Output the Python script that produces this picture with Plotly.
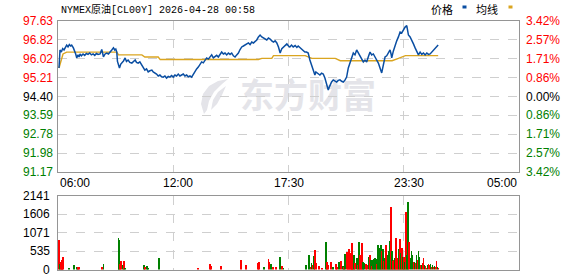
import plotly.graph_objects as go

W, H = 578, 276

# ---------------- data ----------------
title_text = "NYMEX原油[CL00Y] 2026-04-28 00:58"
prev_close = 94.40
price_ticks = [97.63, 96.82, 96.02, 95.21, 94.40, 93.59, 92.78, 91.98, 91.17]
pct_labels = ["3.42%", "2.57%", "1.71%", "0.86%", "0.00%", "0.86%", "1.71%", "2.57%", "3.42%"]
vol_ticks = [2141, 1606, 1071, 535, 0]
time_tick_min = [0, 360, 690, 1050, 1380]
time_labels = ["06:00", "12:00", "17:30", "23:30", "05:00"]
grid_min = [345, 690, 1035]

# minutes since 06:00
price_min = [3, 4, 5, 6, 10, 14, 18, 22, 26, 30, 34, 38, 41, 46, 50, 53, 56, 60, 63, 66, 70,
             75, 80, 85, 90, 95, 100, 105, 110, 115, 120, 126, 131, 134, 136, 141, 146, 151,
             156, 161, 166, 170, 173, 176, 178, 181, 184, 188, 191, 196, 201, 205, 210, 215,
             221, 226, 231, 235, 240, 245, 251, 255, 260, 265, 270, 275, 281, 285, 290, 295,
             300, 305, 310, 315, 320, 325, 330, 335, 340, 345, 350, 355, 360, 365, 370, 375,
             380, 385, 390, 395, 400, 405, 410, 415, 420, 425, 430, 435, 440, 445, 450, 455,
             460, 465, 470, 475, 480, 485, 490, 495, 500, 505, 510, 515, 520, 525, 530, 535,
             540, 545, 550, 555, 560, 565, 570, 575, 580, 585, 590, 595, 600, 605, 610, 615,
             620, 625, 630, 635, 640, 645, 650, 655, 660, 665, 670, 675, 680, 685, 690, 694,
             699, 704, 710, 715, 719, 725, 730, 735, 739, 744, 749, 754, 760, 765, 769, 772,
             775, 780, 784, 789, 794, 799, 802, 804, 807, 809, 812, 814, 819, 824, 829, 834,
             839, 844, 849, 854, 859, 864, 869, 874, 879, 884, 889, 894, 899, 904, 909, 914,
             919, 924, 929, 934, 939, 944, 949, 954, 959, 964, 969, 974, 979, 984, 989, 994,
             997, 999, 1004, 1009, 1014, 1019, 1024, 1029, 1034, 1039, 1044, 1049, 1054,
             1059, 1064, 1069, 1074, 1079, 1084, 1089, 1094, 1099, 1104, 1109, 1114, 1119,
             1124, 1129, 1134, 1138]
price_val = [95.62, 96.30, 96.00, 96.39, 96.30, 96.45, 96.39, 96.48, 96.60, 96.52, 96.62,
             96.56, 96.60, 96.48, 96.35, 96.22, 96.05, 96.18, 96.09, 96.22, 96.14,
             96.22, 96.16, 96.24, 96.20, 96.26, 96.18, 96.22, 96.16, 96.24, 96.20, 96.22,
             96.41, 96.26, 96.10, 96.22, 96.26, 96.22,
             96.33, 96.39, 96.48, 96.39, 96.43, 96.30, 95.90, 95.75, 95.62, 95.79, 95.83,
             95.92, 96.05, 95.90, 95.96, 95.86,
             95.83, 95.92, 95.96, 95.86, 95.83, 95.88, 95.75, 95.62, 95.53, 95.58, 95.45,
             95.50, 95.53, 95.45, 95.41, 95.36,
             95.28, 95.32, 95.24, 95.23, 95.28, 95.19, 95.26, 95.23, 95.30, 95.23, 95.32,
             95.28, 95.36, 95.28, 95.32, 95.36,
             95.28, 95.32, 95.24, 95.28, 95.23, 95.36, 95.45, 95.58, 95.66, 95.79, 95.88,
             95.84, 95.96, 96.05, 96.00, 96.12,
             96.18, 96.05, 96.09, 96.16, 96.09, 96.20, 96.30, 96.22, 96.26, 96.18, 96.26,
             96.20, 96.26, 96.14, 96.09, 96.18,
             96.26, 96.41, 96.52, 96.56, 96.60, 96.65, 96.69, 96.62, 96.73, 96.69, 96.76,
             96.82, 96.95, 97.03, 96.95, 96.90,
             96.86, 96.82, 96.90, 96.86, 96.78, 96.73, 96.78, 96.69, 96.52, 96.26, 96.45,
             96.52, 96.62, 96.65, 96.56, 96.52,
             96.60, 96.52, 96.58, 96.50, 96.56, 96.48, 96.43, 96.35, 96.30, 96.30, 96.26,
             95.96, 95.66, 95.45, 95.32, 95.45,
             95.41, 95.36, 95.32, 95.40, 95.36, 95.19, 95.00, 94.89, 94.75, 94.68, 94.80,
             94.89, 95.02, 95.11, 95.05, 95.02,
             95.09, 95.11, 95.05, 95.02, 95.10, 95.23, 95.62, 95.88, 96.05, 96.26, 96.18,
             96.39, 96.26, 96.09, 96.00, 95.88,
             95.96, 95.88, 96.10, 96.30, 96.18, 96.22, 96.09, 95.96, 95.83, 95.62, 95.41,
             95.75, 96.09, 96.14, 96.26, 96.39,
             96.22, 96.05, 96.35, 96.60, 96.78, 96.95, 97.16, 97.12, 97.28, 97.37, 97.43,
             97.03, 96.95,
             96.82, 96.65, 96.48, 96.30, 96.18, 96.30, 96.20, 96.26, 96.18, 96.26, 96.20,
             96.22, 96.30,
             96.39, 96.45, 96.52, 96.60]

avg_min = [3, 9, 15, 26, 176, 181, 251, 260, 300, 306, 600, 610, 640, 645, 740, 760, 830,
           845, 1000, 1019, 1040, 1138]
avg_val = [95.62, 95.96, 96.22, 96.30, 96.30, 96.18, 96.18, 96.09, 96.09, 95.98, 95.98,
           96.03, 96.03, 96.15, 96.15, 96.03, 96.03, 95.93, 95.93, 96.03, 96.15, 96.15]

vol_min = [3, 5, 9, 11, 13, 16, 34, 49, 56, 61, 64, 131, 136, 181, 183, 186, 189, 195, 198,
           201, 258, 261, 266, 270, 303, 420, 455, 457, 489, 547, 562, 598, 602, 617, 630,
           633, 637, 643, 653, 665, 670, 675,
           742, 752, 756, 759, 762, 767, 770, 774, 782, 789, 802, 806, 809, 817, 824, 832,
           836, 842, 847, 852, 857, 860, 864, 867, 870, 873, 876, 879, 881, 884, 887, 890,
           894, 898, 901, 904, 908, 911, 914, 917, 922, 925, 931, 934, 937, 940, 944, 947,
           950, 953, 956, 959, 962, 965, 968, 971, 974, 977, 980, 983, 986, 989, 992, 995,
           998, 1001, 1004, 1007, 1010, 1013, 1016, 1019, 1022, 1025, 1028, 1031, 1034,
           1037, 1040, 1043, 1046, 1049, 1052, 1055, 1058, 1061, 1064, 1067, 1070, 1073,
           1076, 1079, 1082, 1085, 1088, 1091, 1094, 1097, 1100, 1103, 1106, 1109, 1112,
           1115, 1118, 1121, 1124, 1127, 1130, 1133, 1136, 1139]
vol_val = [870, 166, 220, 190, 264, 362, 40, 117, 60, 60, 60, 60, 156, 917, 870, 166, 244,
           117, 244, 40, 137, 68, 98, 40, 342, 40, 156, 88, 98, 274, 137, 180, 225, 60, 302,
           225, 156, 60, 80, 372, 100, 30,
           127, 420, 78, 195, 127, 391, 567, 176, 98, 49, 811, 225, 127, 225, 78, 156,
           78, 225, 254, 98, 59, 450, 518, 371, 606, 391, 489, 567, 782, 274, 420, 176,
           322, 127, 811, 420, 322, 762, 225, 176, 156, 127, 371, 420, 274, 98, 274, 293,
           322, 293, 156, 713, 616, 371, 713, 538, 586, 254, 322, 713, 371, 420, 538, 831,
           1817, 538, 254, 274, 322, 909, 322, 274, 586, 880, 469, 616, 371,
           371, 225, 1661, 420, 1954, 791, 322, 538, 420, 225, 225, 195, 420,
           274, 538, 371, 127, 127, 176, 322, 127, 98, 29, 127, 156, 127,
           156, 78, 127, 59, 98, 78, 244, 59, 20]
vol_up = [1, 0, 1, 1, 1, 1, 0, 0, 0, 1, 1, 1, 0, 0, 0, 1, 1, 0, 1, 0, 0, 1, 0, 0, 0, 1, 1,
          1, 1, 1, 1, 1, 1, 0, 1, 1, 0, 1, 1, 0, 1, 0,
          0, 0, 1, 0, 1, 0, 1, 1, 1, 1, 0, 1, 1, 1, 0, 1,
          1, 0, 1, 0, 1, 0, 1, 1, 1, 1, 1, 1, 1, 1, 0, 1,
          0, 1, 0, 1, 1, 1, 0, 0, 1, 1, 0, 1, 0, 1, 0, 0,
          0, 0, 1, 0, 0, 0, 0, 1, 0, 1, 0, 1, 1, 0, 0, 0,
          1, 0, 1, 1, 0, 1, 1, 1, 0, 1, 0, 1, 0,
          1, 0, 1, 0, 0, 1, 0, 0, 0, 1, 0, 1, 0,
          1, 0, 0, 1, 0, 1, 1, 0, 1, 1, 0, 1, 1,
          0, 1, 0, 1, 0, 1, 1, 0, 1]

# ---------------- style ----------------
RED = "#ff0000"
GREEN = "#008000"
BLUE = "#0a4ea2"
GOLD = "#daa520"
GRID = "#cfcfcf"
FRAME = "#959595"
FONT = "Liberation Sans, Arial, sans-serif"


def px(x):
    return x / W


def py(y):
    return (H - y) / H


x0, x1 = px(58), px(519)
main_dom = [py(172), py(21)]
vol_dom = [py(269.5), py(196)]

fig = go.Figure()
fig.add_trace(go.Scatter(x=avg_min, y=avg_val, mode="lines",
                         line=dict(color=GOLD, width=1.4), xaxis="x", yaxis="y",
                         hoverinfo="skip"))
fig.add_trace(go.Scatter(x=price_min, y=price_val, mode="lines",
                         line=dict(color=BLUE, width=1.5), xaxis="x", yaxis="y"))
fig.add_trace(go.Bar(x=vol_min, y=vol_val,
                     marker=dict(color=[RED if u else GREEN for u in vol_up], line_width=0),
                     width=2.6, xaxis="x2", yaxis="y2"))

axis_common = dict(showgrid=True, gridcolor=GRID, griddash="dash", gridwidth=1,
                   showline=True, linecolor=FRAME, linewidth=1, mirror=True,
                   zeroline=False, showticklabels=False, ticks="", fixedrange=True)

annotations = []
shapes = []

# left price labels & right percent labels
for v, p in zip(price_ticks, pct_labels):
    if v > prev_close + 1e-9:
        c = RED
    elif v < prev_close - 1e-9:
        c = GREEN
    else:
        c = "#000000"
    annotations.append(dict(x=px(55), xref="paper", y=v, yref="y", text=f"{v:.2f}",
                            xanchor="right", yanchor="middle", showarrow=False,
                            font=dict(family=FONT, size=12, color=c)))
    annotations.append(dict(x=px(524), xref="paper", y=v, yref="y", text=p,
                            xanchor="left", yanchor="middle", showarrow=False,
                            font=dict(family=FONT, size=12, color=c)))

# volume labels
for v in vol_ticks:
    annotations.append(dict(x=px(52), xref="paper", y=v, yref="y2", text=str(v),
                            xanchor="right", yanchor="middle", showarrow=False,
                            font=dict(family=FONT, size=12, color="#000000")))

# time labels
for i, (m, t) in enumerate(zip(time_tick_min, time_labels)):
    anchor = "left" if i == 0 else ("right" if i == len(time_labels) - 1 else "center")
    annotations.append(dict(x=m, xref="x", y=py(183), yref="paper", text=t,
                            xanchor=anchor, yanchor="middle", showarrow=False,
                            font=dict(family=FONT, size=12, color="#000000")))

# title
annotations.append(dict(x=px(59), xref="paper", y=py(9), yref="paper", text=title_text,
                        xanchor="left", yanchor="middle", showarrow=False,
                        font=dict(family="Liberation Mono, Noto Sans CJK SC, monospace",
                                  size=10, color="#000000")))
# legend
annotations.append(dict(x=px(455), xref="paper", y=py(9), yref="paper", text="价格",
                        xanchor="right", yanchor="middle", showarrow=False,
                        font=dict(family="Noto Sans CJK SC", size=11, color="#000000")))
annotations.append(dict(x=px(500), xref="paper", y=py(9), yref="paper", text="均线",
                        xanchor="right", yanchor="middle", showarrow=False,
                        font=dict(family="Noto Sans CJK SC", size=11, color="#000000")))
shapes.append(dict(type="rect", xref="paper", yref="paper", x0=px(462.5), x1=px(466.5),
                   y0=py(8.5), y1=py(5.5), fillcolor=BLUE, line_width=0))
shapes.append(dict(type="rect", xref="paper", yref="paper", x0=px(508.5), x1=px(512.5),
                   y0=py(8.5), y1=py(5.5), fillcolor=GOLD, line_width=0))

# watermark (below the traces)
WM = "#e4e4e9"
shapes.append(dict(type="rect", xref="paper", yref="paper", x0=px(234), x1=px(382),
                   y0=py(118), y1=py(79), line_width=0, fillcolor="rgba(0,0,0,0)",
                   layer="below",
                   label=dict(text="<b>东方财富</b>", textposition="middle center",
                              font=dict(family="Noto Sans CJK SC", size=34, color=WM))))


def pp(pts):
    return " ".join(("M" if i == 0 else "L") + f"{px(a):.4f},{py(b):.4f}"
                    for i, (a, b) in enumerate(pts)) + " Z"


shapes.append(dict(type="path", xref="paper", yref="paper", layer="below",
                   path=pp([(204, 114), (201, 104), (203, 94), (209, 86), (218, 81),
                            (228, 79), (222, 84), (214, 92), (209, 101), (207, 110)]),
                   fillcolor=WM, line_width=0))
shapes.append(dict(type="path", xref="paper", yref="paper", layer="below",
                   path=pp([(211, 110), (213, 100), (218, 92), (226, 86), (222, 95),
                            (217, 104)]),
                   fillcolor=WM, line_width=0))

fig.update_layout(
    width=W, height=H, margin=dict(l=0, r=0, t=0, b=0),
    paper_bgcolor="#ffffff", plot_bgcolor="#ffffff", showlegend=False,
    bargap=0,
    xaxis=dict(domain=[x0, x1], range=[0, 1380], tickvals=grid_min, anchor="y",
               **axis_common),
    yaxis=dict(domain=main_dom, range=[price_ticks[-1], price_ticks[0]],
               tickvals=price_ticks[1:-1], anchor="x", **axis_common),
    xaxis2=dict(domain=[x0, x1], range=[0, 1380], tickvals=grid_min, anchor="y2",
                **axis_common),
    yaxis2=dict(domain=vol_dom, range=[0, vol_ticks[0]], tickvals=vol_ticks[1:-1],
                anchor="x2", **axis_common),
    annotations=annotations, shapes=shapes,
)

fig.write_html("out.html")
